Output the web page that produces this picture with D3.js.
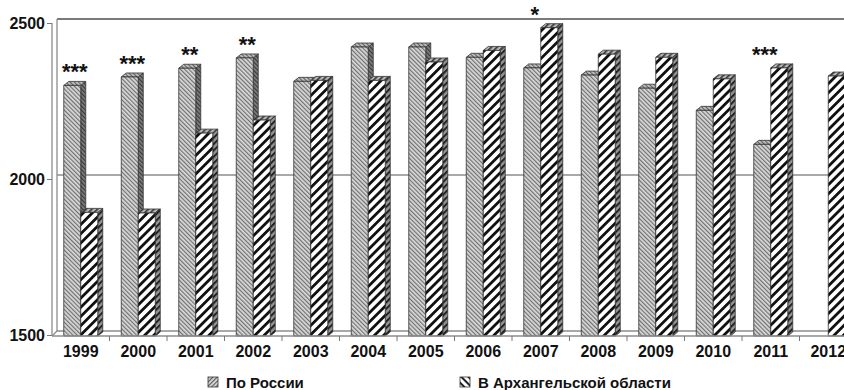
<!DOCTYPE html>
<html>
<head>
<meta charset="utf-8">
<script src="https://cdn.jsdelivr.net/npm/d3@7"></script>
<style>
  html, body { margin: 0; padding: 0; background: #fff; }
  svg { display: block; font-family: "Liberation Sans", Arial, sans-serif; font-weight: bold; }
</style>
</head>
<body>
<svg id="chart" width="844" height="390"></svg>
<script>
// Years on the category axis
const years = ["1999","2000","2001","2002","2003","2004","2005","2006","2007","2008","2009","2010","2011","2012"];
// Average values, Russia (no value for 2012)
const russia = [2300, 2327, 2355, 2388, 2313, 2423, 2423, 2390, 2356, 2333, 2291, 2220, 2111, null];
// Average values, Arkhangelsk region
const arkh = [1893, 1891, 2147, 2189, 2316, 2316, 2375, 2412, 2485, 2400, 2390, 2321, 2356, 2330];
// Significance marks per year
const marks = ["***", "***", "**", "**", "", "", "", "", "*", "", "", "", "***", ""];
// Axis ticks
const yTicks = [1500, 2000, 2500];
const seriesNames = ["По России", "В Архангельской области"];

const svg = d3.select("#chart");
const W = 844, H = 390;
const left = 52, floorY = 336;
const depthX = 5, depthY = -4;   // 3D depth offset of the back plane
const step = 57.5;

const x = d3.scaleBand().domain(years).range([left, left + step * years.length]).padding(0);
const y = d3.scaleLinear().domain([1500, 2500]).range([335, 23]);
const barW = 17;

// ---------- patterns ----------
const defs = svg.append("defs");
function stripes(id, bg, fg, size, width, angle) {
  const p = defs.append("pattern").attr("id", id)
    .attr("patternUnits", "userSpaceOnUse")
    .attr("width", size).attr("height", size)
    .attr("patternTransform", `rotate(${angle})`);
  p.append("rect").attr("width", size).attr("height", size).attr("fill", bg);
  p.append("rect").attr("width", width).attr("height", size).attr("fill", fg);
}
stripes("ruFront", "#dadada", "#707070", 3, 1.2, -45);
stripes("ruSide", "#808080", "#383838", 3, 1.2, -45);
stripes("ruTop", "#c0c0c0", "#606060", 3, 1.1, -45);
stripes("arFront", "#ffffff", "#111111", 6.5, 2.8, 45);
stripes("arSide", "#959595", "#222222", 4.5, 2, 45);
stripes("arTop", "#b8b8b8", "#333333", 4, 1.6, 45);
stripes("ruLegend", "#d6d6d6", "#5a5a5a", 3, 1.1, 45);
stripes("arLegend", "#ffffff", "#222222", 5, 2, -45);

// ---------- walls, floor, gridlines ----------
const frame = svg.append("g").attr("fill", "none").attr("stroke", "#8c8c8c");
// back-wall gridlines
frame.selectAll("line.grid").data([2000, 2500]).join("line")
  .attr("class", "grid")
  .attr("x1", left + depthX).attr("x2", W)
  .attr("y1", d => y(d) + depthY).attr("y2", d => y(d) + depthY)
  .attr("stroke-width", d => d === 2500 ? 2.2 : 1.6)
  .attr("stroke", d => d === 2500 ? "#7a7a7a" : "#8c8c8c");
// back wall left edge and floor back edge
frame.append("line").attr("x1", left + depthX).attr("x2", left + depthX)
  .attr("y1", y(2500) + depthY).attr("y2", y(1500) + depthY).attr("stroke-width", 1.3);
frame.append("line").attr("x1", left + depthX).attr("x2", W)
  .attr("y1", y(1500) + depthY).attr("y2", y(1500) + depthY).attr("stroke-width", 1.3);
// floor left connector
frame.append("line").attr("x1", left).attr("x2", left + depthX)
  .attr("y1", floorY).attr("y2", y(1500) + depthY).attr("stroke-width", 1.2);

// ---------- 3D bars ----------
function bar3d(g, x0, v, front, side, top) {
  const yt = y(v), yb = floorY;
  const x1 = x0 + barW;
  g.append("path")
    .attr("d", `M${x1},${yt}L${x1 + depthX},${yt + depthY}L${x1 + depthX},${yb + depthY}L${x1},${yb}Z`)
    .attr("fill", `url(#${side})`);
  g.append("path")
    .attr("d", `M${x0},${yt}L${x0 + depthX},${yt + depthY}L${x1 + depthX},${yt + depthY}L${x1},${yt}Z`)
    .attr("fill", `url(#${top})`);
  g.append("rect").attr("x", x0).attr("y", yt).attr("width", barW).attr("height", yb - yt)
    .attr("fill", `url(#${front})`);
}
const bars = svg.append("g").attr("stroke", "#333").attr("stroke-width", 0.8).attr("stroke-linejoin", "round");
years.forEach((yr, i) => {
  const c = x(yr) + x.bandwidth() / 2;
  const g = bars.append("g");
  if (russia[i] != null) bar3d(g, c - barW, russia[i], "ruFront", "ruSide", "ruTop");
  if (arkh[i] != null) bar3d(g, c, arkh[i], "arFront", "arSide", "arTop");
});

// ---------- significance marks ----------
svg.append("g").selectAll("text").data(years.map((yr, i) => ({ yr, i })).filter(d => marks[d.i]))
  .join("text")
  .attr("x", d => x(d.yr) + x.bandwidth() / 2 - 6)
  .attr("y", d => y(Math.max(russia[d.i] ?? 0, arkh[d.i] ?? 0)) - 6)
  .attr("text-anchor", "middle")
  .attr("font-size", 22)
  .attr("fill", "#111")
  .text(d => marks[d.i]);

// ---------- axes ----------
const yAxis = svg.append("g").attr("transform", `translate(${left},0)`)
  .call(d3.axisLeft(y).tickValues(yTicks).tickSize(5).tickPadding(2).tickFormat(d3.format("d")));
yAxis.select(".domain").attr("stroke", "#8c8c8c").attr("stroke-width", 1.3)
  .attr("d", `M0,${y(2500)}V${floorY}`);
yAxis.selectAll(".tick line").attr("stroke", "#777");
yAxis.selectAll(".tick text").attr("font-size", 16).attr("font-weight", "bold")
  .attr("font-family", "Liberation Sans, Arial, sans-serif").attr("fill", "#111");

const xAxis = svg.append("g").attr("transform", `translate(0,${floorY})`)
  .call(d3.axisBottom(x).tickSize(0).tickPadding(10));
xAxis.select(".domain").attr("stroke", "#8c8c8c").attr("stroke-width", 1.3)
  .attr("d", `M${left},0H${W}`);
xAxis.selectAll(".tick text").attr("font-size", 16).attr("font-weight", "bold")
  .attr("font-family", "Liberation Sans, Arial, sans-serif").attr("fill", "#111");
// category boundary ticks
xAxis.append("g").selectAll("line").data(years.slice(1))
  .join("line")
  .attr("x1", d => x(d)).attr("x2", d => x(d))
  .attr("y1", 0).attr("y2", 5)
  .attr("stroke", "#777");

// ---------- legend ----------
const legend = svg.append("g").attr("font-size", 15).attr("fill", "#111");
const legendPos = [208, 460];
const legendFill = ["ruLegend", "arLegend"];
seriesNames.forEach((name, i) => {
  const g = legend.append("g").attr("transform", `translate(${legendPos[i]},377)`);
  g.append("rect").attr("width", 10).attr("height", 10)
    .attr("fill", `url(#${legendFill[i]})`).attr("stroke", "#333").attr("stroke-width", 0.8);
  g.append("text").attr("x", 18).attr("y", 10.5).text(name);
});
</script>
</body>
</html>
